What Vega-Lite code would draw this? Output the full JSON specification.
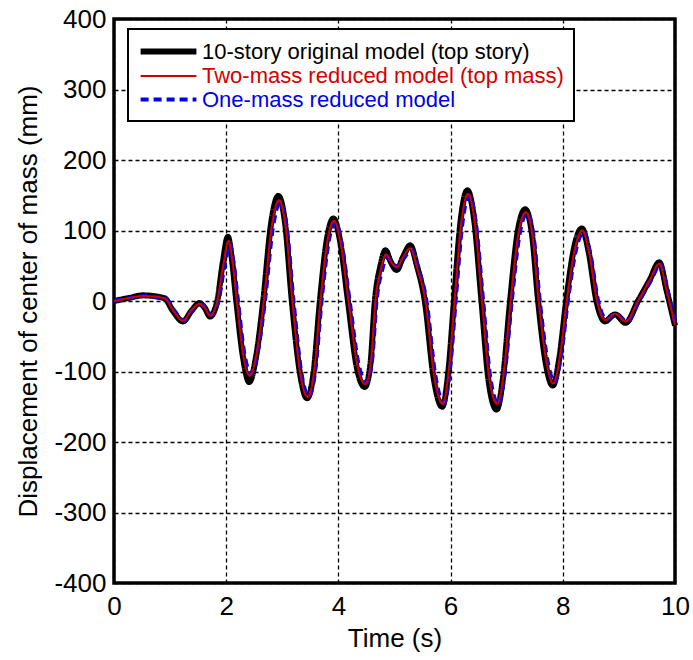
{
  "$schema": "https://vega.github.io/schema/vega-lite/v6.json",
  "width": 561,
  "height": 564,
  "autosize": "none",
  "padding": {"left": 114, "top": 19, "right": 18, "bottom": 77},
  "background": "white",
  "config": {
    "font": "Liberation Sans",
    "view": {"stroke": "black", "strokeWidth": 3.5},
    "axis": {
      "domain": false,
      "grid": true,
      "gridColor": "black",
      "gridDash": [4, 3],
      "gridWidth": 1.3,
      "gridOpacity": 1,
      "tickColor": "black",
      "tickSize": 0,
      "labelFlush": false,
      "labelFont": "Liberation Sans",
      "titleFont": "Liberation Sans",
      "labelFontSize": 26,
      "titleFontSize": 26,
      "labelColor": "black",
      "titleColor": "black",
      "titleFontWeight": "normal"
    }
  },
  "data": {
    "values": [
      {"model": "10-story original model (top story)", "t": 0, "y": 0},
      {"model": "10-story original model (top story)", "t": 0.25, "y": 4},
      {"model": "10-story original model (top story)", "t": 0.52, "y": 8},
      {"model": "10-story original model (top story)", "t": 0.9, "y": 4},
      {"model": "10-story original model (top story)", "t": 1.05, "y": -14},
      {"model": "10-story original model (top story)", "t": 1.23, "y": -29},
      {"model": "10-story original model (top story)", "t": 1.38, "y": -14},
      {"model": "10-story original model (top story)", "t": 1.52, "y": -3},
      {"model": "10-story original model (top story)", "t": 1.62, "y": -10},
      {"model": "10-story original model (top story)", "t": 1.71, "y": -22},
      {"model": "10-story original model (top story)", "t": 1.84, "y": 0},
      {"model": "10-story original model (top story)", "t": 1.94, "y": 55},
      {"model": "10-story original model (top story)", "t": 2.03, "y": 91},
      {"model": "10-story original model (top story)", "t": 2.1, "y": 60},
      {"model": "10-story original model (top story)", "t": 2.18, "y": 0},
      {"model": "10-story original model (top story)", "t": 2.3, "y": -80},
      {"model": "10-story original model (top story)", "t": 2.41, "y": -115},
      {"model": "10-story original model (top story)", "t": 2.53, "y": -80},
      {"model": "10-story original model (top story)", "t": 2.66, "y": 0},
      {"model": "10-story original model (top story)", "t": 2.8, "y": 110},
      {"model": "10-story original model (top story)", "t": 2.93, "y": 149},
      {"model": "10-story original model (top story)", "t": 3.05, "y": 110},
      {"model": "10-story original model (top story)", "t": 3.17, "y": 0},
      {"model": "10-story original model (top story)", "t": 3.32, "y": -105},
      {"model": "10-story original model (top story)", "t": 3.44, "y": -138},
      {"model": "10-story original model (top story)", "t": 3.56, "y": -100},
      {"model": "10-story original model (top story)", "t": 3.67, "y": 0},
      {"model": "10-story original model (top story)", "t": 3.8, "y": 90},
      {"model": "10-story original model (top story)", "t": 3.91, "y": 117},
      {"model": "10-story original model (top story)", "t": 4.03, "y": 85},
      {"model": "10-story original model (top story)", "t": 4.17, "y": 0},
      {"model": "10-story original model (top story)", "t": 4.33, "y": -95},
      {"model": "10-story original model (top story)", "t": 4.47, "y": -122},
      {"model": "10-story original model (top story)", "t": 4.57, "y": -90},
      {"model": "10-story original model (top story)", "t": 4.65, "y": 0},
      {"model": "10-story original model (top story)", "t": 4.75, "y": 50},
      {"model": "10-story original model (top story)", "t": 4.84, "y": 72},
      {"model": "10-story original model (top story)", "t": 4.93, "y": 56},
      {"model": "10-story original model (top story)", "t": 5.04, "y": 44},
      {"model": "10-story original model (top story)", "t": 5.15, "y": 62},
      {"model": "10-story original model (top story)", "t": 5.28, "y": 79},
      {"model": "10-story original model (top story)", "t": 5.4, "y": 50},
      {"model": "10-story original model (top story)", "t": 5.54, "y": 0},
      {"model": "10-story original model (top story)", "t": 5.7, "y": -110},
      {"model": "10-story original model (top story)", "t": 5.85, "y": -150},
      {"model": "10-story original model (top story)", "t": 5.96, "y": -100},
      {"model": "10-story original model (top story)", "t": 6.06, "y": 0},
      {"model": "10-story original model (top story)", "t": 6.18, "y": 115},
      {"model": "10-story original model (top story)", "t": 6.3, "y": 157},
      {"model": "10-story original model (top story)", "t": 6.42, "y": 115},
      {"model": "10-story original model (top story)", "t": 6.55, "y": 0},
      {"model": "10-story original model (top story)", "t": 6.68, "y": -115},
      {"model": "10-story original model (top story)", "t": 6.82, "y": -154},
      {"model": "10-story original model (top story)", "t": 6.94, "y": -105},
      {"model": "10-story original model (top story)", "t": 7.06, "y": 0},
      {"model": "10-story original model (top story)", "t": 7.2, "y": 100},
      {"model": "10-story original model (top story)", "t": 7.33, "y": 130},
      {"model": "10-story original model (top story)", "t": 7.45, "y": 95},
      {"model": "10-story original model (top story)", "t": 7.56, "y": 0},
      {"model": "10-story original model (top story)", "t": 7.7, "y": -90},
      {"model": "10-story original model (top story)", "t": 7.82, "y": -120},
      {"model": "10-story original model (top story)", "t": 7.94, "y": -80},
      {"model": "10-story original model (top story)", "t": 8.06, "y": 0},
      {"model": "10-story original model (top story)", "t": 8.2, "y": 75},
      {"model": "10-story original model (top story)", "t": 8.34, "y": 103},
      {"model": "10-story original model (top story)", "t": 8.46, "y": 70},
      {"model": "10-story original model (top story)", "t": 8.6, "y": 0},
      {"model": "10-story original model (top story)", "t": 8.75, "y": -29},
      {"model": "10-story original model (top story)", "t": 8.93, "y": -19},
      {"model": "10-story original model (top story)", "t": 9.12, "y": -31},
      {"model": "10-story original model (top story)", "t": 9.34, "y": 0},
      {"model": "10-story original model (top story)", "t": 9.55, "y": 30},
      {"model": "10-story original model (top story)", "t": 9.72, "y": 55},
      {"model": "10-story original model (top story)", "t": 9.85, "y": 15},
      {"model": "10-story original model (top story)", "t": 10, "y": -35},

      {"model": "Two-mass reduced model (top mass)", "t": 0, "y": 0},
      {"model": "Two-mass reduced model (top mass)", "t": 0.25, "y": 4},
      {"model": "Two-mass reduced model (top mass)", "t": 0.52, "y": 7},
      {"model": "Two-mass reduced model (top mass)", "t": 0.9, "y": 4},
      {"model": "Two-mass reduced model (top mass)", "t": 1.05, "y": -13},
      {"model": "Two-mass reduced model (top mass)", "t": 1.23, "y": -28},
      {"model": "Two-mass reduced model (top mass)", "t": 1.38, "y": -13},
      {"model": "Two-mass reduced model (top mass)", "t": 1.52, "y": -4},
      {"model": "Two-mass reduced model (top mass)", "t": 1.62, "y": -10},
      {"model": "Two-mass reduced model (top mass)", "t": 1.71, "y": -21},
      {"model": "Two-mass reduced model (top mass)", "t": 1.84, "y": 0},
      {"model": "Two-mass reduced model (top mass)", "t": 1.95, "y": 52},
      {"model": "Two-mass reduced model (top mass)", "t": 2.04, "y": 85},
      {"model": "Two-mass reduced model (top mass)", "t": 2.11, "y": 57},
      {"model": "Two-mass reduced model (top mass)", "t": 2.19, "y": 0},
      {"model": "Two-mass reduced model (top mass)", "t": 2.3, "y": -75},
      {"model": "Two-mass reduced model (top mass)", "t": 2.42, "y": -106},
      {"model": "Two-mass reduced model (top mass)", "t": 2.54, "y": -75},
      {"model": "Two-mass reduced model (top mass)", "t": 2.67, "y": 0},
      {"model": "Two-mass reduced model (top mass)", "t": 2.81, "y": 105},
      {"model": "Two-mass reduced model (top mass)", "t": 2.94, "y": 143},
      {"model": "Two-mass reduced model (top mass)", "t": 3.06, "y": 105},
      {"model": "Two-mass reduced model (top mass)", "t": 3.18, "y": 0},
      {"model": "Two-mass reduced model (top mass)", "t": 3.32, "y": -103},
      {"model": "Two-mass reduced model (top mass)", "t": 3.45, "y": -136},
      {"model": "Two-mass reduced model (top mass)", "t": 3.57, "y": -98},
      {"model": "Two-mass reduced model (top mass)", "t": 3.68, "y": 0},
      {"model": "Two-mass reduced model (top mass)", "t": 3.81, "y": 88},
      {"model": "Two-mass reduced model (top mass)", "t": 3.92, "y": 114},
      {"model": "Two-mass reduced model (top mass)", "t": 4.04, "y": 82},
      {"model": "Two-mass reduced model (top mass)", "t": 4.18, "y": 0},
      {"model": "Two-mass reduced model (top mass)", "t": 4.34, "y": -92},
      {"model": "Two-mass reduced model (top mass)", "t": 4.48, "y": -118},
      {"model": "Two-mass reduced model (top mass)", "t": 4.58, "y": -86},
      {"model": "Two-mass reduced model (top mass)", "t": 4.66, "y": 0},
      {"model": "Two-mass reduced model (top mass)", "t": 4.76, "y": 46},
      {"model": "Two-mass reduced model (top mass)", "t": 4.85, "y": 66},
      {"model": "Two-mass reduced model (top mass)", "t": 4.94, "y": 55},
      {"model": "Two-mass reduced model (top mass)", "t": 5.04, "y": 48},
      {"model": "Two-mass reduced model (top mass)", "t": 5.15, "y": 62},
      {"model": "Two-mass reduced model (top mass)", "t": 5.28, "y": 75},
      {"model": "Two-mass reduced model (top mass)", "t": 5.4, "y": 48},
      {"model": "Two-mass reduced model (top mass)", "t": 5.55, "y": 0},
      {"model": "Two-mass reduced model (top mass)", "t": 5.71, "y": -108},
      {"model": "Two-mass reduced model (top mass)", "t": 5.86, "y": -146},
      {"model": "Two-mass reduced model (top mass)", "t": 5.97, "y": -97},
      {"model": "Two-mass reduced model (top mass)", "t": 6.07, "y": 0},
      {"model": "Two-mass reduced model (top mass)", "t": 6.19, "y": 111},
      {"model": "Two-mass reduced model (top mass)", "t": 6.31, "y": 152},
      {"model": "Two-mass reduced model (top mass)", "t": 6.43, "y": 112},
      {"model": "Two-mass reduced model (top mass)", "t": 6.56, "y": 0},
      {"model": "Two-mass reduced model (top mass)", "t": 6.69, "y": -110},
      {"model": "Two-mass reduced model (top mass)", "t": 6.83, "y": -146},
      {"model": "Two-mass reduced model (top mass)", "t": 6.95, "y": -100},
      {"model": "Two-mass reduced model (top mass)", "t": 7.07, "y": 0},
      {"model": "Two-mass reduced model (top mass)", "t": 7.21, "y": 96},
      {"model": "Two-mass reduced model (top mass)", "t": 7.34, "y": 126},
      {"model": "Two-mass reduced model (top mass)", "t": 7.46, "y": 92},
      {"model": "Two-mass reduced model (top mass)", "t": 7.57, "y": 0},
      {"model": "Two-mass reduced model (top mass)", "t": 7.71, "y": -87},
      {"model": "Two-mass reduced model (top mass)", "t": 7.83, "y": -117},
      {"model": "Two-mass reduced model (top mass)", "t": 7.95, "y": -78},
      {"model": "Two-mass reduced model (top mass)", "t": 8.07, "y": 0},
      {"model": "Two-mass reduced model (top mass)", "t": 8.21, "y": 72},
      {"model": "Two-mass reduced model (top mass)", "t": 8.35, "y": 100},
      {"model": "Two-mass reduced model (top mass)", "t": 8.47, "y": 68},
      {"model": "Two-mass reduced model (top mass)", "t": 8.61, "y": 0},
      {"model": "Two-mass reduced model (top mass)", "t": 8.76, "y": -27},
      {"model": "Two-mass reduced model (top mass)", "t": 8.93, "y": -18},
      {"model": "Two-mass reduced model (top mass)", "t": 9.12, "y": -29},
      {"model": "Two-mass reduced model (top mass)", "t": 9.34, "y": 0},
      {"model": "Two-mass reduced model (top mass)", "t": 9.55, "y": 30},
      {"model": "Two-mass reduced model (top mass)", "t": 9.72, "y": 53},
      {"model": "Two-mass reduced model (top mass)", "t": 9.85, "y": 15},
      {"model": "Two-mass reduced model (top mass)", "t": 10, "y": -34},

      {"model": "One-mass reduced model", "t": 0, "y": 0},
      {"model": "One-mass reduced model", "t": 0.27, "y": 4},
      {"model": "One-mass reduced model", "t": 0.54, "y": 7},
      {"model": "One-mass reduced model", "t": 0.92, "y": 4},
      {"model": "One-mass reduced model", "t": 1.07, "y": -13},
      {"model": "One-mass reduced model", "t": 1.25, "y": -28},
      {"model": "One-mass reduced model", "t": 1.4, "y": -13},
      {"model": "One-mass reduced model", "t": 1.54, "y": -5},
      {"model": "One-mass reduced model", "t": 1.64, "y": -10},
      {"model": "One-mass reduced model", "t": 1.73, "y": -20},
      {"model": "One-mass reduced model", "t": 1.86, "y": 0},
      {"model": "One-mass reduced model", "t": 1.97, "y": 50},
      {"model": "One-mass reduced model", "t": 2.06, "y": 81},
      {"model": "One-mass reduced model", "t": 2.13, "y": 55},
      {"model": "One-mass reduced model", "t": 2.21, "y": 0},
      {"model": "One-mass reduced model", "t": 2.32, "y": -73},
      {"model": "One-mass reduced model", "t": 2.44, "y": -103},
      {"model": "One-mass reduced model", "t": 2.56, "y": -73},
      {"model": "One-mass reduced model", "t": 2.69, "y": 0},
      {"model": "One-mass reduced model", "t": 2.83, "y": 103},
      {"model": "One-mass reduced model", "t": 2.96, "y": 140},
      {"model": "One-mass reduced model", "t": 3.08, "y": 103},
      {"model": "One-mass reduced model", "t": 3.2, "y": 0},
      {"model": "One-mass reduced model", "t": 3.34, "y": -102},
      {"model": "One-mass reduced model", "t": 3.47, "y": -135},
      {"model": "One-mass reduced model", "t": 3.59, "y": -97},
      {"model": "One-mass reduced model", "t": 3.7, "y": 0},
      {"model": "One-mass reduced model", "t": 3.83, "y": 86},
      {"model": "One-mass reduced model", "t": 3.94, "y": 112},
      {"model": "One-mass reduced model", "t": 4.06, "y": 80},
      {"model": "One-mass reduced model", "t": 4.2, "y": 0},
      {"model": "One-mass reduced model", "t": 4.36, "y": -90},
      {"model": "One-mass reduced model", "t": 4.5, "y": -116},
      {"model": "One-mass reduced model", "t": 4.6, "y": -84},
      {"model": "One-mass reduced model", "t": 4.68, "y": 0},
      {"model": "One-mass reduced model", "t": 4.78, "y": 44},
      {"model": "One-mass reduced model", "t": 4.87, "y": 63},
      {"model": "One-mass reduced model", "t": 4.96, "y": 53},
      {"model": "One-mass reduced model", "t": 5.06, "y": 49},
      {"model": "One-mass reduced model", "t": 5.17, "y": 61},
      {"model": "One-mass reduced model", "t": 5.3, "y": 73},
      {"model": "One-mass reduced model", "t": 5.42, "y": 47},
      {"model": "One-mass reduced model", "t": 5.57, "y": 0},
      {"model": "One-mass reduced model", "t": 5.73, "y": -107},
      {"model": "One-mass reduced model", "t": 5.88, "y": -145},
      {"model": "One-mass reduced model", "t": 5.99, "y": -96},
      {"model": "One-mass reduced model", "t": 6.09, "y": 0},
      {"model": "One-mass reduced model", "t": 6.21, "y": 110},
      {"model": "One-mass reduced model", "t": 6.33, "y": 150},
      {"model": "One-mass reduced model", "t": 6.45, "y": 110},
      {"model": "One-mass reduced model", "t": 6.58, "y": 0},
      {"model": "One-mass reduced model", "t": 6.71, "y": -110},
      {"model": "One-mass reduced model", "t": 6.85, "y": -146},
      {"model": "One-mass reduced model", "t": 6.97, "y": -99},
      {"model": "One-mass reduced model", "t": 7.09, "y": 0},
      {"model": "One-mass reduced model", "t": 7.23, "y": 95},
      {"model": "One-mass reduced model", "t": 7.36, "y": 124},
      {"model": "One-mass reduced model", "t": 7.48, "y": 91},
      {"model": "One-mass reduced model", "t": 7.59, "y": 0},
      {"model": "One-mass reduced model", "t": 7.73, "y": -86},
      {"model": "One-mass reduced model", "t": 7.85, "y": -115},
      {"model": "One-mass reduced model", "t": 7.97, "y": -77},
      {"model": "One-mass reduced model", "t": 8.09, "y": 0},
      {"model": "One-mass reduced model", "t": 8.23, "y": 71},
      {"model": "One-mass reduced model", "t": 8.37, "y": 98},
      {"model": "One-mass reduced model", "t": 8.49, "y": 67},
      {"model": "One-mass reduced model", "t": 8.63, "y": 0},
      {"model": "One-mass reduced model", "t": 8.78, "y": -26},
      {"model": "One-mass reduced model", "t": 8.95, "y": -18},
      {"model": "One-mass reduced model", "t": 9.14, "y": -29},
      {"model": "One-mass reduced model", "t": 9.36, "y": 0},
      {"model": "One-mass reduced model", "t": 9.57, "y": 29},
      {"model": "One-mass reduced model", "t": 9.74, "y": 52},
      {"model": "One-mass reduced model", "t": 9.87, "y": 14},
      {"model": "One-mass reduced model", "t": 10, "y": -31}
    ]
  },
  "encoding": {
    "x": {
      "field": "t", "type": "quantitative",
      "scale": {"domain": [0, 10], "nice": false},
      "axis": {"title": "Time (s)", "values": [0, 2, 4, 6, 8, 10], "labelPadding": 10, "titlePadding": 6}
    },
    "y": {
      "field": "y", "type": "quantitative",
      "scale": {"domain": [-400, 400], "nice": false},
      "axis": {"title": "Displacement of center of mass (mm)", "values": [-400, -300, -200, -100, 0, 100, 200, 300, 400], "labelExpr": "'' + datum.value", "labelPadding": 8, "titlePadding": 12}
    },
    "color": {
      "field": "model", "type": "nominal",
      "scale": {
        "domain": ["10-story original model (top story)", "Two-mass reduced model (top mass)", "One-mass reduced model"],
        "range": ["#000000", "#d40000", "#0000ee"]
      },
      "legend": {
        "title": null,
        "orient": "none",
        "legendX": 14,
        "legendY": 10,
        "padding": 10,
        "rowPadding": 1,
        "strokeColor": "black",
        "fillColor": "white",
        "symbolType": "M-3,0H3",
        "symbolSize": 346,
        "symbolOffset": 18,
        "labelFontSize": 22,
        "labelFont": "Liberation Sans",
        "labelOffset": 21,
        "labelLimit": 0,
        "encode": {
          "labels": {"update": {"fill": {"scale": "color", "field": "value"}}},
          "legend": {"update": {"strokeWidth": {"value": 2}}}
        }
      }
    },
    "strokeWidth": {
      "field": "model", "type": "nominal",
      "scale": {
        "type": "ordinal",
        "domain": ["10-story original model (top story)", "Two-mass reduced model (top mass)", "One-mass reduced model"],
        "range": [6, 2, 4]
      }
    },
    "strokeDash": {
      "field": "model", "type": "nominal",
      "scale": {
        "domain": ["10-story original model (top story)", "Two-mass reduced model (top mass)", "One-mass reduced model"],
        "range": [[1, 0], [1, 0], [8, 5]]
      }
    }
  },
  "layer": [
    {
      "transform": [{"filter": "datum.model === '10-story original model (top story)'"}],
      "mark": {"type": "line", "interpolate": "monotone"}
    },
    {
      "transform": [{"filter": "datum.model === 'One-mass reduced model'"}],
      "mark": {"type": "line", "interpolate": "monotone"}
    },
    {
      "transform": [{"filter": "datum.model === 'Two-mass reduced model (top mass)'"}],
      "mark": {"type": "line", "interpolate": "monotone"}
    }
  ]
}
